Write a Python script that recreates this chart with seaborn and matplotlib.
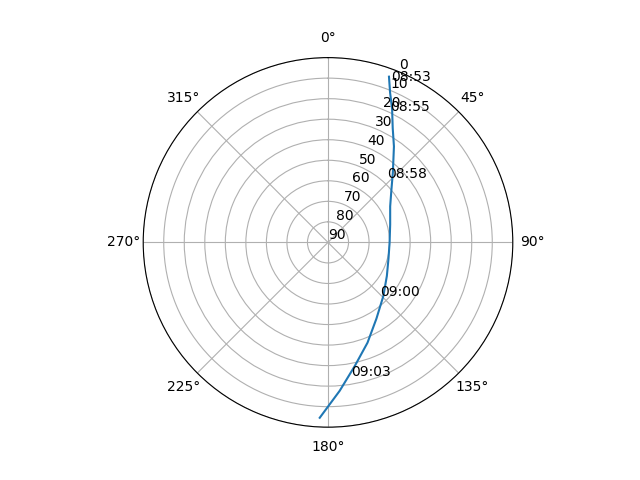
import numpy as np
import pandas as pd
import seaborn as sns
import matplotlib
matplotlib.use("Agg")
import matplotlib.pyplot as plt

# satellite pass track (azimuth deg, elevation deg)
track_az = [20.2, 22.5, 25.7, 29.5, 34.5, 42.8, 50.5, 59.9, 74.0, 90.0,
            105.0, 119.7, 134.0, 147.6, 158.5, 167.7, 175.5, 182.7]
track_el = [4, 11, 18, 26, 33.3, 43.5, 50, 55, 58.5, 60,
            59.5, 57, 52.5, 46, 37.5, 28.5, 17.5, 4.5]

# time labels
label_times = ["08:53", "08:55", "08:58", "09:00", "09:03"]
label_az = [20.8, 24.5, 41.0, 134.0, 170.0]
label_el = [4, 17.5, 46, 55, 26]

df = pd.DataFrame({"theta": np.radians(track_az), "el": track_el})

fig = plt.figure(figsize=(6.4, 4.8), dpi=100)
ax = fig.add_subplot(projection="polar")
ax.set_theta_zero_location("N")
ax.set_theta_direction(-1)

sns.lineplot(data=df, x="theta", y="el", sort=False, ax=ax)
ax.set_rlim(90, 0)
ax.set_yticks(range(0, 91, 10))
ax.set_xlabel("")
ax.set_ylabel("")

for t, a, e in zip(label_times, label_az, label_el):
    ax.text(np.radians(a), e, t, ha="left", va="center")

fig.savefig("out.png")
